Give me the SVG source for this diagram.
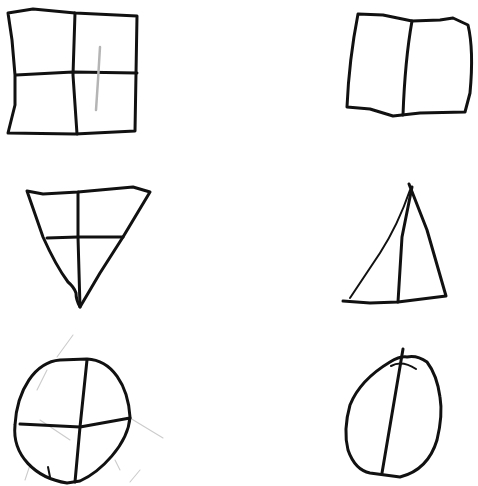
<svg xmlns="http://www.w3.org/2000/svg" width="478" height="486" viewBox="0 0 478 486">
<style>
.s{fill:none;stroke:#111;stroke-width:3;stroke-linecap:round;stroke-linejoin:round}
.t{fill:none;stroke:#111;stroke-width:2;stroke-linecap:round;stroke-linejoin:round}
.f{fill:none;stroke:#ccc;stroke-width:1.1;stroke-linecap:round}
</style>
<rect width="478" height="486" fill="#fff"/>
<g id="square4">
<path class="s" d="M8,13 L33,9 L75,13 L137,16 L135,131 L75,134 L8,133 L15,105 L15,75 L12,40 Z"/>
<path class="s" d="M75,13 L73,75 L77,134"/>
<path class="s" d="M16,75 L73,72 L137,73"/>
<path d="M100,47 L98,80 L96,110" fill="none" stroke="#b5b5b5" stroke-width="2.5" stroke-linecap="round"/>
</g>
<g id="square2">
<path class="s" d="M358,14 L383,15 L412,21 L440,20 L453,18 L468,25 Q474,50 470,93 L465,112 L420,113 L393,116 L370,109 L347,107 Q349,60 358,14 Z"/>
<path class="s" d="M412,21 Q405,60 403,115"/>
</g>
<g id="triangle4">
<path class="s" d="M27,191 L43,194 L78,192 L100,190 L133,187 L150,192 L123,237 L100,273 L80,307 Q76,300 76,293 Q74,287 68,282 Q56,266 43,237 Z"/>
<path class="s" d="M78,192 L78,237 L80,307"/>
<path class="s" d="M47,238 L78,237 L123,237"/>
</g>
<g id="triangle2">
<path class="s" d="M409,184 L427,230 L446,296 L398,302 L370,303 L343,301"/>
<path class="t" d="M350,298 L380,253 Q398,225 410,190"/>
<path class="s" d="M412,187 L402,237 L398,302"/>
</g>
<g id="circle4">
<path class="f" d="M73,335 L57,357 M47,370 L37,390 M130,418 L163,438 M40,420 L70,440 M115,460 L120,470 M30,465 L25,480 M140,470 L130,482"/>
<path class="s" d="M67,483 C35,478 12,455 15,425 C17,390 35,362 60,360 L87,359 C112,360 128,385 130,417 C128,445 100,472 80,481 Z"/>
<path class="s" d="M87,360 L80,427 L75,482"/>
<path class="s" d="M20,424 L80,427 L130,418"/>
<path class="t" d="M48,467 L50,477"/>
</g>
<g id="oval2">
<path class="s" d="M407,357 Q400,356 390,362 Q360,380 350,405 Q343,430 348,450 Q355,470 370,473 L400,477 Q428,470 437,440 Q443,415 440,397 Q437,375 427,362 Q417,355 407,357 Z"/>
<path class="s" d="M403,349 L382,473"/>
<path class="t" d="M391,366 Q402,360 416,369"/>
</g>
</svg>
